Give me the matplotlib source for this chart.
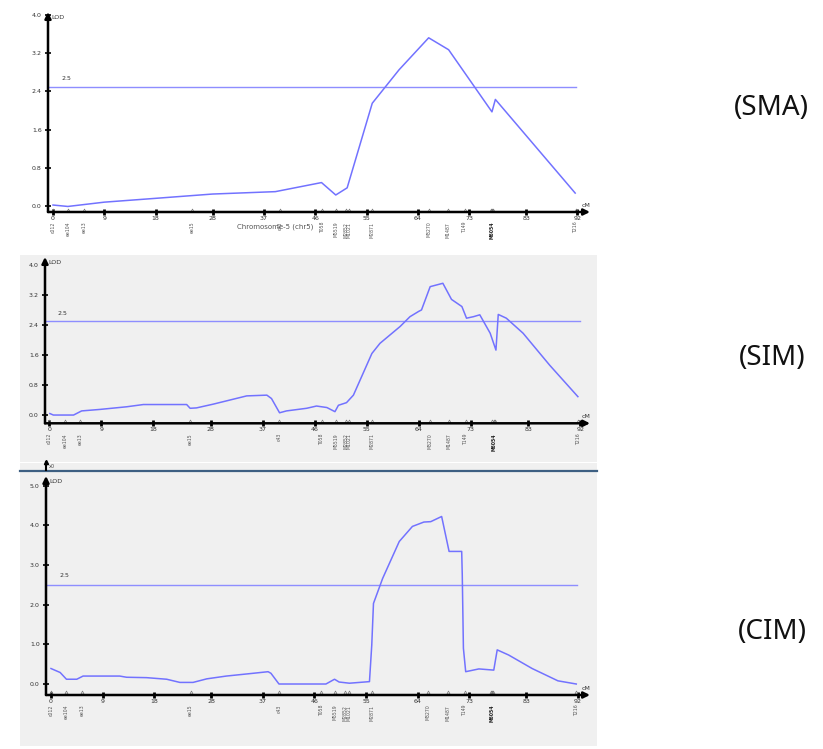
import matplotlib
matplotlib.use("Agg")
import matplotlib.pyplot as plt
from matplotlib.patches import Rectangle

W, H = 823, 749

# ---------------- data ----------------
major_ticks = [0, 9, 18, 28, 37, 46, 55, 64, 73, 83, 92]
marker_pos = [0, 2.7, 5.4, 24.4, 39.8, 47.2, 49.6, 51.4, 52.0, 56.0, 65.9, 69.3, 72.2, 77.0, 91.7]
marker_names = ["c012", "ee104", "ee13", "ee15", "c43", "T058", "M5519", "M2852", "M1021", "M2871",
                "M3270", "M1487", "T149", "M6054", "T216"]
cluster_pos = [76.8, 77.2]
threshold = 2.5

sma_cm = [0, 2.6, 9, 18, 28, 39, 47.1, 49.6, 51.6, 56.0, 60.7, 65.9, 69.4, 77.0, 77.6, 91.6]
sma_lod = [0.02, -0.01, 0.08, 0.16, 0.25, 0.30, 0.49, 0.23, 0.38, 2.15, 2.85, 3.52, 3.27, 1.97, 2.23, 0.27]

sim_cm = [0.1, 0.7, 4.2, 5.6, 8.8, 13.4, 16.3, 23.8, 24.4, 25.5, 28.4, 34.2, 37.7, 38.5, 39.9, 41.1,
          44.6, 46.3, 48.1, 49.5, 50.1, 51.5, 52.7, 55.9, 57.3, 60.8, 62.5, 64.0, 64.5, 66.0, 68.2,
          69.7, 71.5, 72.3, 73.5, 74.6, 76.4, 77.4, 77.8, 79.2, 82.1, 86.7, 91.6]
sim_lod = [0.04, 0.0, 0.0, 0.11, 0.15, 0.22, 0.28, 0.28, 0.18, 0.19, 0.29, 0.51, 0.53, 0.44, 0.06, 0.11,
           0.18, 0.24, 0.20, 0.09, 0.26, 0.33, 0.53, 1.64, 1.91, 2.36, 2.62, 2.76, 2.80, 3.42, 3.51,
           3.08, 2.89, 2.58, 2.62, 2.67, 2.18, 1.73, 2.68, 2.58, 2.18, 1.33, 0.49]

cim_cm = [0, 1.6, 2.7, 4.5, 5.6, 12.0, 13.2, 16.7, 20.2, 22.5, 24.8, 27.2, 30.6, 35.3, 37.9, 38.4,
          39.8, 48.0, 49.5, 50.3, 52.1, 55.6, 56.0, 56.3, 57.9, 60.8, 63.1, 65.1, 66.3, 68.2, 69.5,
          71.7, 71.8, 72.0, 72.4, 74.7, 77.3, 77.9, 79.9, 84.0, 88.5, 91.7]
cim_lod = [0.39, 0.29, 0.12, 0.12, 0.20, 0.20, 0.17, 0.16, 0.12, 0.04, 0.04, 0.13, 0.20, 0.27, 0.31, 0.27,
           0.0, 0.0, 0.12, 0.05, 0.02, 0.06, 0.98, 2.03, 2.66, 3.59, 3.97, 4.08, 4.09, 4.22, 3.34,
           3.34, 2.75, 0.90, 0.31, 0.38, 0.35, 0.86, 0.73, 0.39, 0.08, 0.0]

sma_yticks = [0.0, 0.8, 1.6, 2.4, 3.2, 4.0]
sim_yticks = [0.0, 0.8, 1.6, 2.4, 3.2, 4.0]
cim_yticks = [0.0, 1.0, 2.0, 3.0, 4.0, 5.0]
method_labels = ["(SMA)", "(SIM)", "(CIM)"]

LINE = "#7272ff"
THR = "#8e8eff"

fig = plt.figure(figsize=(W / 100, H / 100), dpi=100)
fig.patch.set_facecolor("white")

# gray backgrounds of panels 2 and 3
bg = fig.add_axes([0, 0, 1, 1], zorder=-10)
bg.set_xlim(0, W)
bg.set_ylim(H, 0)
bg.axis("off")
bg.add_patch(Rectangle((20, 255), 577, 207, color="#f0f0f0", lw=0))
bg.add_patch(Rectangle((20, 463), 577, 283, color="#f0f0f0", lw=0))
bg.plot([20, 597], [470.5, 470.5], color="#3d5f82", lw=1.6)
bg.plot([46, 46], [470, 462], color="black", lw=1.5)
bg.plot([46], [462], marker="^", color="black", ms=3)
bg.text(49, 467, "x0", fontsize=3.5, color="#444", va="center")


def panel(px_box, xlim, ylim, yticks, cm, lod, thr_end, thr_label_x, title=None):
    x0, y0, x1, y1 = px_box
    ax = fig.add_axes([x0 / W, 1 - y1 / H, (x1 - x0) / W, (y1 - y0) / H])
    ax.set_xlim(*xlim)
    ax.set_ylim(*ylim)
    ax.patch.set_alpha(0)
    for s in ax.spines.values():
        s.set_visible(False)
    # axis lines with arrows
    ax.annotate("", xy=(1, 0), xytext=(0, 0), xycoords="axes fraction",
                arrowprops=dict(arrowstyle="-|>", lw=1.8, color="black", mutation_scale=9, shrinkA=0, shrinkB=0))
    ax.annotate("", xy=(0, 1), xytext=(0, 0), xycoords="axes fraction",
                arrowprops=dict(arrowstyle="-|>", lw=1.8, color="black", mutation_scale=9, shrinkA=0, shrinkB=0))
    ax.set_xticks(major_ticks)
    ax.set_xticklabels([str(t) for t in major_ticks], fontsize=4.5, color="#333")
    ax.set_yticks(yticks)
    ax.set_yticklabels([f"{t:.1f}" for t in yticks], fontsize=4.5, color="#333")
    ax.tick_params(axis="x", direction="inout", length=4, width=2, pad=1, color="black")
    ax.tick_params(axis="y", direction="inout", length=5, width=1.2, pad=2, color="black")
    # threshold
    ax.plot([xlim[0], thr_end], [threshold, threshold], color=THR, lw=1)
    ax.text(thr_label_x, threshold + 0.03 * (ylim[1] - ylim[0]), "2.5", fontsize=4.5, color="#333",
            va="bottom", ha="left")
    # curve
    ax.plot(cm, lod, color=LINE, lw=1.1)
    # markers
    yb = ylim[0]
    allpos = marker_pos + cluster_pos
    ax.plot(allpos, [yb + 0.012 * (ylim[1] - ylim[0])] * len(allpos), ls="none", marker="^",
            mfc="none", mec="#777", ms=2.2, mew=0.5, clip_on=False)
    for p, n in zip(marker_pos, marker_names):
        bold = abs(p - 77.0) < 0.01
        ax.annotate(n, xy=(p, yb), xycoords="data", xytext=(0, -7), textcoords="offset points",
                    rotation=90, fontsize=3.3, color="#222" if bold else "#555",
                    fontweight="bold" if bold else "normal",
                    ha="center", va="top", annotation_clip=False)
    ax.annotate("LOD", xy=(0, 1), xycoords="axes fraction", xytext=(2.5, -2), textcoords="offset points",
                fontsize=4.5, color="#333", va="top", ha="left")
    ax.annotate("cM", xy=(1, 0), xycoords="axes fraction", xytext=(-6, 3), textcoords="offset points",
                fontsize=4.5, color="#333", va="bottom", ha="left")
    if title:
        ax.annotate(title, xy=(0.42, 0), xycoords="axes fraction",
                    xytext=(0, -8), textcoords="offset points", fontsize=5, color="#555",
                    ha="center", va="top")
    return ax


panel((48, 12, 590, 212), (-0.88, 94.2), (-0.126, 4.06), sma_yticks, sma_cm, sma_lod,
      91.8, 1.5, title="Chromosome-5 (chr5)")
panel((45, 257, 590, 423.3), (-0.75, 93.7), (-0.22, 4.21), sim_yticks, sim_cm, sim_lod, 92.0, 1.5)
panel((46, 476, 590, 695), (-0.87, 94.1), (-0.277, 5.24), cim_yticks, cim_cm, cim_lod, 91.8, 1.5)

for lab, (x, y) in zip(method_labels, [(771, 108), (772, 358), (772, 632)]):
    fig.text(x / W, 1 - y / H, lab, fontsize=20, family=["Noto Sans", "DejaVu Sans"],
             ha="center", va="center", color="#111")

fig.savefig("out.png", dpi=100)
